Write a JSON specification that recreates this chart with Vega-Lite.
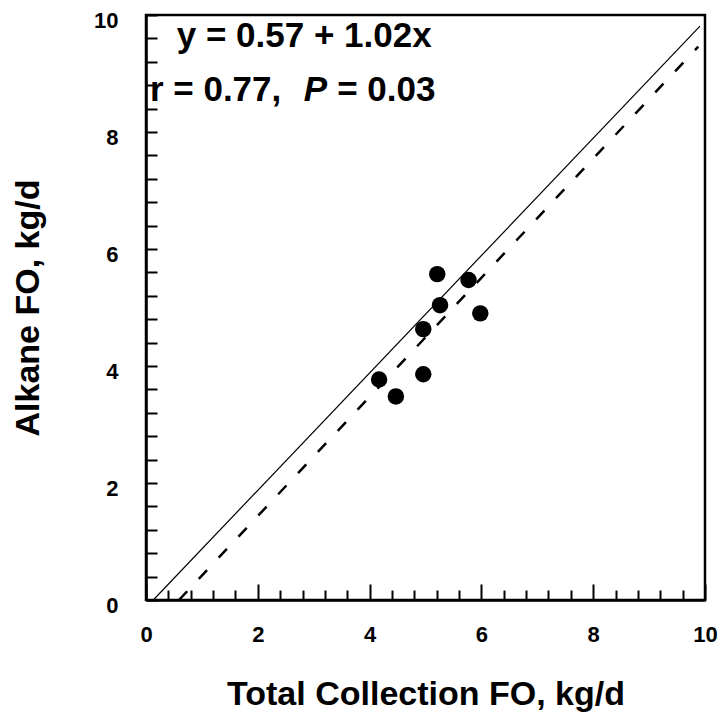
{
  "$schema": "https://vega.github.io/schema/vega-lite/v6.json",
  "width": 559,
  "height": 585,
  "autosize": {"type": "none"},
  "padding": {"left": 146, "top": 15, "right": 19, "bottom": 119},
  "background": "white",
  "config": {
    "view": {"stroke": "black", "strokeWidth": 2.5},
    "font": "Liberation Sans",
    "axis": {
      "grid": false,
      "domainColor": "black",
      "domainWidth": 2.5,
      "tickColor": "black",
      "tickWidth": 2,
      "labelFont": "Liberation Sans",
      "labelFontSize": 22,
      "labelFontWeight": "bold",
      "labelColor": "black",
      "titleFont": "Liberation Sans",
      "titleFontSize": 34,
      "titleFontWeight": "bold",
      "titleColor": "black"
    }
  },
  "layer": [
    {
      "data": {"values": [
        {"total": 5.21, "alkane": 5.57},
        {"total": 5.77, "alkane": 5.47},
        {"total": 5.26, "alkane": 5.04},
        {"total": 5.98, "alkane": 4.90},
        {"total": 4.96, "alkane": 4.63},
        {"total": 4.17, "alkane": 3.77},
        {"total": 4.96, "alkane": 3.86},
        {"total": 4.47, "alkane": 3.48}
      ]},
      "mark": {"type": "point", "filled": true, "color": "black", "opacity": 1, "size": 270, "shape": "circle"},
      "encoding": {
        "x": {
          "field": "total", "type": "quantitative",
          "scale": {"domain": [0, 10], "nice": false, "zero": false},
          "axis": {
            "title": "Total Collection FO, kg/d",
            "values": [0,0.4,0.8,1.2,1.6,2,2.4,2.8,3.2,3.6,4,4.4,4.8,5.2,5.6,6,6.4,6.8,7.2,7.6,8,8.4,8.8,9.2,9.6,10],
            "tickCount": 100,
            "labelExpr": "datum.value % 2 === 0 ? format(datum.value, 'd') : ''",
            "tickSize": {"condition": {"test": "datum.value % 2 === 0", "value": -16}, "value": -10},
            "labelPadding": 40,
            "titlePadding": 26,
            "labelFlush": false,
            "labelOverlap": false
          }
        },
        "y": {
          "field": "alkane", "type": "quantitative",
          "scale": {"domain": [0, 10], "nice": false, "zero": false},
          "axis": {
            "title": "Alkane FO, kg/d",
            "values": [0,0.4,0.8,1.2,1.6,2,2.4,2.8,3.2,3.6,4,4.4,4.8,5.2,5.6,6,6.4,6.8,7.2,7.6,8,8.4,8.8,9.2,9.6,10],
            "tickCount": 100,
            "labelExpr": "datum.value % 2 === 0 ? format(datum.value, 'd') : ''",
            "tickSize": -11,
            "labelPadding": 39,
            "labelOffset": 5,
            "titlePadding": 48,
            "labelFlush": false,
            "labelOverlap": false
          }
        }
      }
    },
    {
      "data": {"values": [{"total": 0.13, "alkane": 0}, {"total": 9.91, "alkane": 9.81}]},
      "mark": {"type": "line", "color": "black", "strokeWidth": 1.2},
      "encoding": {
        "x": {"field": "total", "type": "quantitative"},
        "y": {"field": "alkane", "type": "quantitative"}
      }
    },
    {
      "data": {"values": [{"total": 0.59, "alkane": 0}, {"total": 9.88, "alkane": 9.46}]},
      "mark": {"type": "line", "color": "black", "strokeWidth": 2.5, "strokeDash": [12, 17]},
      "encoding": {
        "x": {"field": "total", "type": "quantitative"},
        "y": {"field": "alkane", "type": "quantitative"}
      }
    },
    {
      "data": {"values": [
        {"total": 0.55, "alkane": 9.46, "label": "y = 0.57 + 1.02x"},
        {"total": 0.07, "alkane": 8.53, "label": "r = 0.77,"},
        {"total": 3.42, "alkane": 8.53, "label": "= 0.03"}
      ]},
      "mark": {"type": "text", "align": "left", "baseline": "alphabetic", "fontSize": 35, "fontWeight": "bold", "font": "Liberation Sans", "color": "black"},
      "encoding": {
        "x": {"field": "total", "type": "quantitative"},
        "y": {"field": "alkane", "type": "quantitative"},
        "text": {"field": "label"}
      }
    },
    {
      "data": {"values": [{"total": 2.82, "alkane": 8.53, "label": "P"}]},
      "mark": {"type": "text", "align": "left", "baseline": "alphabetic", "fontSize": 35, "fontWeight": "bold", "fontStyle": "italic", "font": "Liberation Sans", "color": "black"},
      "encoding": {
        "x": {"field": "total", "type": "quantitative"},
        "y": {"field": "alkane", "type": "quantitative"},
        "text": {"field": "label"}
      }
    }
  ]
}
